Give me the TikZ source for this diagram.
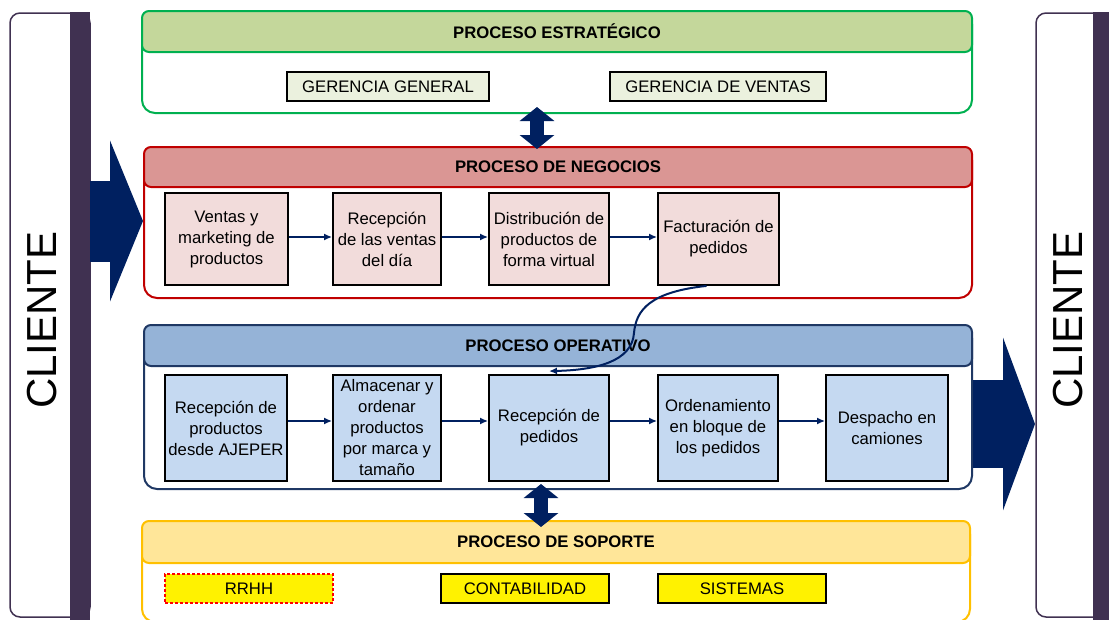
\documentclass[tikz,border=0pt]{standalone}
\usepackage{fontspec}
\setmainfont{Liberation Sans}
\usetikzlibrary{arrows.meta}
\definecolor{azul}{HTML}{002060}
\definecolor{morado}{HTML}{403151}
\definecolor{verde}{HTML}{00B050}
\definecolor{verdeC}{HTML}{C4D79B}
\definecolor{verdeF}{HTML}{EBF1DE}
\definecolor{rojo}{HTML}{C00000}
\definecolor{rojoC}{HTML}{DA9694}
\definecolor{rojoF}{HTML}{F2DCDB}
\definecolor{azulB}{HTML}{1F3864}
\definecolor{azulC}{HTML}{95B3D7}
\definecolor{azulF}{HTML}{C5D9F1}
\definecolor{oro}{HTML}{FFC000}
\definecolor{oroC}{HTML}{FFE699}
\newcommand{\letra}{\fontsize{16.7}{21}\selectfont}
\tikzset{
  marco/.style={draw=#1,line width=2pt,fill=white,rounded corners=13pt},
  cabecera/.style={draw=#1,line width=2pt,rounded corners=7pt,font=\letra\bfseries},
  caja/.style={draw=black,line width=1.8pt,align=center,inner sep=1pt,font=\letra},
  rotulo/.style={draw=black,line width=1.6pt,minimum height=29pt,font=\letra},
  flecha/.style={azul,line width=2pt,-{Latex[length=8pt,width=7pt]}},
  doble/.style={azul,line width=14pt,{Triangle[length=14pt,width=34pt]}-{Triangle[length=14pt,width=34pt]}},
  cliente/.style={rotate=90,font=\fontsize{42}{42}\selectfont},
}
\begin{document}
\begin{tikzpicture}[x=1pt,y=-1pt]
\useasboundingbox (0,0) rectangle (1109,619);
% clientes
\draw[morado,line width=1.5pt,rounded corners=10pt] (10,13) rectangle (90,617);
\fill[morado] (70,12) rectangle (90,625);
\node[cliente] (cliL) at (42,320) {CLIENTE};
\draw[morado,line width=1.5pt,rounded corners=10pt] (1036,13) rectangle (1130,617);
\fill[morado] (1093,12) rectangle (1120,625);
\node[cliente] (cliR) at (1068,320) {CLIENTE};
% proceso estrategico
\node[marco=verde,minimum width=830pt,minimum height=102pt] (est) at (557,62) {};
\node[cabecera=verde,fill=verdeC,minimum width=830pt,minimum height=41pt] (estT) at (557,31.5) {PROCESO ESTRATÉGICO};
\node[rotulo,fill=verdeF,minimum width=202pt] (g1) at (388,86.5) {GERENCIA GENERAL};
\node[rotulo,fill=verdeF,minimum width=216pt] (g2) at (718,86.5) {GERENCIA DE VENTAS};
% proceso de negocios
\node[marco=rojo,minimum width=828pt,minimum height=151pt] (neg) at (558,222.5) {};
\node[cabecera=rojo,fill=rojoC,minimum width=828pt,minimum height=40pt] (negT) at (558,167) {PROCESO DE NEGOCIOS};
\node[caja,fill=rojoF,minimum width=123pt,minimum height=92pt] (n1) at (226.5,239) {Ventas y\\marketing de\\productos};
\node[caja,fill=rojoF,minimum width=108pt,minimum height=92pt] (n2) at (387,239) {Recepción\\de las ventas\\del día};
\node[caja,fill=rojoF,minimum width=120pt,minimum height=92pt] (n3) at (549,239) {Distribución de\\productos de\\forma virtual};
\node[caja,fill=rojoF,minimum width=121pt,minimum height=92pt] (n4) at (718.5,239) {Facturación de\\pedidos};
\foreach \a/\b in {n1/n2,n2/n3,n3/n4}
  \draw[flecha] ([yshift=2pt]\a.east) -- ([yshift=2pt]\b.west);
% proceso operativo
\node[marco=azulB,minimum width=828pt,minimum height=164pt] (ope) at (558,407) {};
\node[cabecera=azulB,fill=azulC,minimum width=828pt,minimum height=41pt] (opeT) at (558,345.5) {PROCESO OPERATIVO};
\node[caja,fill=azulF,minimum width=122pt,minimum height=106pt] (o1) at (226,428) {Recepción de\\productos\\desde AJEPER};
\node[caja,fill=azulF,minimum width=108pt,minimum height=106pt] (o2) at (387,428) {Almacenar y\\ordenar\\productos\\por marca y\\tamaño};
\node[caja,fill=azulF,minimum width=120pt,minimum height=106pt] (o3) at (549,428) {Recepción de\\pedidos};
\node[caja,fill=azulF,minimum width=120pt,minimum height=106pt] (o4) at (718,428) {Ordenamiento\\en bloque de\\los pedidos};
\node[caja,fill=azulF,minimum width=122pt,minimum height=106pt] (o5) at (887,428) {Despacho en\\camiones};
\foreach \a/\b in {o1/o2,o2/o3,o3/o4,o4/o5}
  \draw[flecha] ([yshift=7pt]\a.east) -- ([yshift=7pt]\b.west);
% proceso de soporte
\node[marco=oro,minimum width=828pt,minimum height=101pt] (sop) at (556,571.5) {};
\node[cabecera=oro,fill=oroC,minimum width=828pt,minimum height=42pt] (sopT) at (556,542) {PROCESO DE SOPORTE};
\node[rotulo,fill=yellow,draw=red,line width=1.2pt,dash pattern=on 3pt off 2pt,minimum width=168pt] (s1) at (249,588.5) {RRHH};
\node[rotulo,fill=yellow,minimum width=168pt] (s2) at (525,588.5) {CONTABILIDAD};
\node[rotulo,fill=yellow,minimum width=168pt] (s3) at (742,588.5) {SISTEMAS};
% flechas
\coordinate (bL) at (90,221);
\coordinate (pL) at (143,221);
\draw[azul,line width=81pt,-{Triangle[length=33pt,width=160pt]}] (bL) -- (pL);
\coordinate (pR) at (1035,424);
\draw[azul,line width=88pt,-{Triangle[length=32pt,width=172pt]}] (ope.east |- pR) -- (pR);
\draw[doble] ([xshift=-20pt,yshift=7pt]est.south) -- ([xshift=-21pt,yshift=-3pt]neg.north);
\draw[doble] ([xshift=-17pt,yshift=6pt]ope.south) -- ([xshift=-15pt,yshift=-7pt]sop.north);
\draw[flecha] ([xshift=-12pt]n4.south) .. controls (650,292) and (636,310) .. (634,333)
  .. controls (632,362) and (595,370) .. ([yshift=3pt]o3.north);
\end{tikzpicture}
\end{document}
